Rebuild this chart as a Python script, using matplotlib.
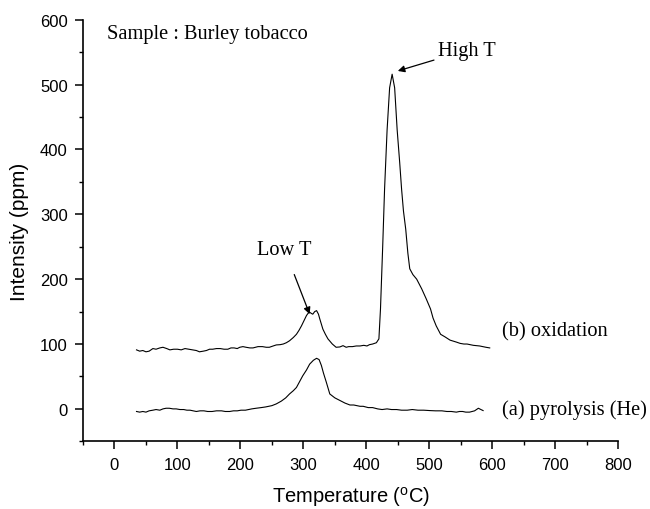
import numpy as np
import matplotlib.pyplot as plt
from matplotlib.ticker import MultipleLocator

# (b) oxidation trace
temp_b = [35, 40, 45, 50, 55, 61, 66, 72, 77, 83, 88, 94, 100, 106, 112, 118, 124, 130,
          135, 141, 146, 151, 156, 162, 168, 174, 180, 185, 190, 195, 199,
          204, 209, 215, 220, 228, 235, 241, 246, 252, 257, 263, 268, 273, 278, 284,
          289, 293, 297, 301, 305, 308, 310, 313, 315,
          318, 321, 324, 326, 331, 335, 339, 346, 352, 358, 363, 368, 372, 378, 384,
          390, 396, 401, 405, 410, 416, 420, 422.5, 426, 429, 433, 437, 441, 445,
          449, 453, 456, 459, 462.6, 466, 469, 474, 480, 488, 495, 502, 506, 511,
          518, 525, 533, 543, 549, 555, 560, 565, 570, 575, 580, 585, 590, 596]
int_b = [91, 89, 90, 88, 89, 93, 92, 94, 95, 93, 91, 92, 92, 91, 93, 92, 91, 90,
         88, 89, 90, 92, 92, 93, 93, 92, 92, 94, 94, 93, 95,
         96, 95, 94, 94, 96, 96, 95, 95, 97, 98.6, 99, 100, 102, 105, 110,
         115, 121, 128, 136, 144, 148, 149, 147, 146,
         150, 151.5, 146, 139, 123, 115, 108, 100, 95, 95.5, 97.5, 95, 96, 96, 97,
         97, 98, 97, 99, 100, 102, 108, 154, 250, 339, 430, 495, 516, 495,
         430, 380, 339, 305, 277, 240, 216, 207, 200, 185, 170, 154, 140, 128,
         115, 111, 106, 103, 101, 100, 100, 99, 98, 97.5, 97, 96, 95, 94]

# (a) pyrolysis (He) trace
temp_a = [35, 40, 45, 50, 55, 61, 66, 72, 77, 82, 87, 93, 98, 104, 110, 115, 120, 125,
          130, 136, 142, 148, 155, 162, 170, 176, 183, 189, 195, 201,
          208, 213, 218, 225, 233, 240, 245, 250, 257, 265, 272, 278, 284, 289,
          294, 299, 305, 310, 316, 321, 325, 328.6, 332, 336.5, 342, 350, 358,
          366, 374, 380, 385, 390, 395, 403, 410, 418, 425, 433, 440, 448, 456,
          465, 473, 482, 491, 501, 510, 520, 528, 535, 543, 548, 553, 558, 564,
          568, 572, 575, 578, 582, 585.5]
int_a = [-4, -5, -4, -5, -3, -2, -1, -2, 0, 1, 1, 0, 0, -1, -1, -2, -2, -3,
         -4, -3, -3, -4, -4, -3, -3, -4, -4, -3, -3, -2,
         -2, -1, 0, 1, 2, 3, 4, 5, 7.7, 12, 17, 23, 28, 33,
         42, 51, 60, 69, 75, 78, 76, 67, 55, 41, 23, 17, 13,
         9, 6, 6, 5, 4, 4, 2, 2, 0, -1, 0, -1, -1, -2,
         -2, -1, -2, -2, -2.6, -3, -3, -4, -4, -5, -4, -4, -5, -5,
         -4, -3, -1, 1, -1, -2.6]

x_ticks = [0, 100, 200, 300, 400, 500, 600, 700, 800]
y_ticks = [0, 100, 200, 300, 400, 500, 600]

sans = 'Liberation Sans'
serif = 'Liberation Serif'

fig = plt.figure(figsize=(6.5, 5.1), dpi=100)
ax = fig.add_axes([0.1277, 0.1327, 0.8233, 0.8267])

ax.plot(temp_b, int_b, color='black', lw=0.8)
ax.plot(temp_a, int_a, color='black', lw=0.8)

ax.set_xlim(-50, 800)
ax.set_ylim(-50, 600)
ax.set_xticks(x_ticks)
ax.set_yticks(y_ticks)
ax.xaxis.set_minor_locator(MultipleLocator(50))
ax.yaxis.set_minor_locator(MultipleLocator(50))
ax.tick_params(which='major', direction='out', length=6, width=1.1, labelsize=12, pad=5)
ax.tick_params(which='minor', direction='out', length=3, width=1.0)
for lab in ax.get_xticklabels() + ax.get_yticklabels():
    lab.set_fontfamily(sans)

for s in ['top', 'right']:
    ax.spines[s].set_visible(False)
for s in ['left', 'bottom']:
    ax.spines[s].set_linewidth(1.2)

ax.set_xlabel('Temperature ($\\mathregular{^{o}}$C)', fontsize=14.5, family=sans, labelpad=9)
ax.set_ylabel('Intensity (ppm)', fontsize=15, family=sans, labelpad=8)

ax.text(-12, 579, 'Sample : Burley tobacco', fontsize=14.7, family=serif, va='center')
ax.text(615, 120, '(b) oxidation', fontsize=14.7, family=serif, va='center')
ax.text(615, 0, '(a) pyrolysis (He)', fontsize=14.7, family=serif, va='center')

ax.annotate('High T', xy=(450, 521), xytext=(514, 553), fontsize=14.7, family=serif,
            va='center', ha='left',
            arrowprops=dict(arrowstyle='-|>', color='black', lw=0.9, mutation_scale=10,
                            shrinkA=1, shrinkB=0))
ax.annotate('Low T', xy=(310, 146), xytext=(270, 246), fontsize=14.7, family=serif,
            va='center', ha='center',
            arrowprops=dict(arrowstyle='-|>', color='black', lw=0.9, mutation_scale=10,
                            shrinkA=10, shrinkB=0))

plt.savefig('out.png', dpi=100)
